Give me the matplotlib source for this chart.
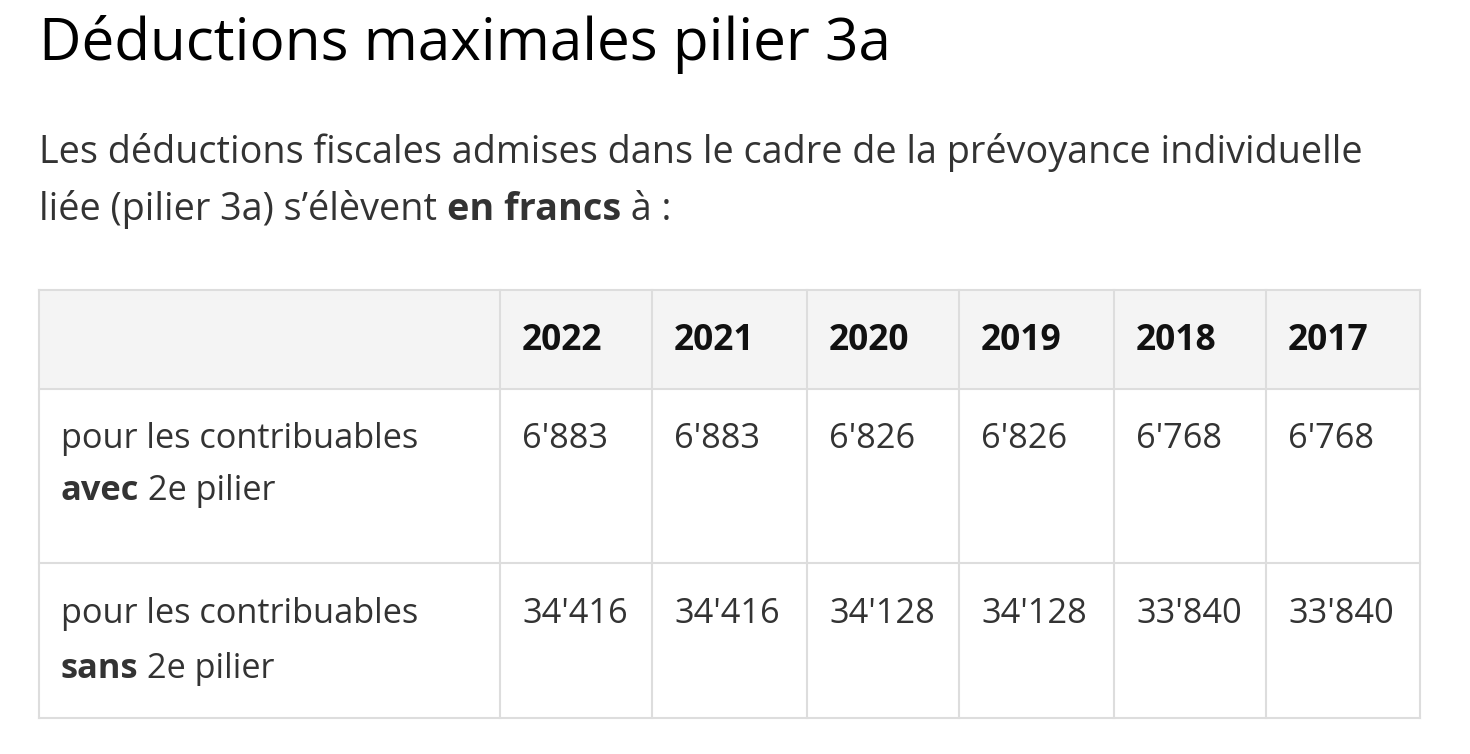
import matplotlib
matplotlib.use("Agg")
import matplotlib.pyplot as plt
from matplotlib.patches import Rectangle

plt.rcParams['font.family'] = ['Open Sans', 'DejaVu Sans']

title = "Déductions maximales pilier 3a"
intro_1 = "Les déductions fiscales admises dans le cadre de la prévoyance individuelle"
intro_2 = [("liée (pilier 3a) s’élèvent ", "normal"), ("en francs", "bold"), (" à :", "normal")]

years = ["2022", "2021", "2020", "2019", "2018", "2017"]
avec_2e = ["6'883", "6'883", "6'826", "6'826", "6'768", "6'768"]
sans_2e = ["34'416", "34'416", "34'128", "34'128", "33'840", "33'840"]
row_labels = [
    ("pour les contribuables", [("avec", "bold"), (" 2e pilier", "normal")]),
    ("pour les contribuables", [("sans", "bold"), (" 2e pilier", "normal")]),
]

fig = plt.figure(figsize=(14.7, 7.54), dpi=100)
ax = fig.add_axes([0, 0, 1, 1])
ax.set_xlim(0, 1470)
ax.set_ylim(754, 0)
ax.axis('off')
renderer = fig.canvas.get_renderer()


def text_width(s, size, weight="normal"):
    t = ax.text(0, 0, s, fontsize=size, fontweight=weight)
    w = t.get_window_extent(renderer).width
    t.remove()
    return w


def fit_size(s, target, weight="normal"):
    return 20 * target / text_width(s, 20, weight)


def draw_segments(x, y, segments, size, color):
    for s, weight in segments:
        t = ax.text(x, y, s, fontsize=size, fontweight=weight, color=color, va='baseline', ha='left')
        x += t.get_window_extent(renderer).width


title_size = fit_size(title, 851, "medium")
body_size = fit_size(intro_1, 1319)
cell_size = fit_size("pour les contribuables", 359)
head_size = fit_size("2022", 81, "bold")

ax.text(39, 60, title, fontsize=title_size, fontweight="medium", color="#000000", va='baseline')
ax.text(39, 163, intro_1, fontsize=body_size, color="#333333", va='baseline')
draw_segments(39, 220, intro_2, body_size, "#333333")

# table grid
col_edges = [39, 500, 652, 807, 959, 1114, 1266, 1420]
row_edges = [290, 389, 563, 718]
border = "#dddddd"
ax.add_patch(Rectangle((col_edges[0], row_edges[0]), col_edges[-1] - col_edges[0],
                       row_edges[1] - row_edges[0], facecolor="#f4f4f4", edgecolor="none"))
for y in row_edges:
    ax.plot([col_edges[0], col_edges[-1]], [y, y], color=border, lw=1.5)
for x in col_edges:
    ax.plot([x, x], [row_edges[0], row_edges[-1]], color=border, lw=1.5)

pad = 22
for i, yr in enumerate(years):
    ax.text(col_edges[i + 1] + pad, 350, yr, fontsize=head_size, fontweight='bold',
            color="#111111", va='baseline')

line1 = [448, 623]
line2 = [500, 678]
for r, (first, second) in enumerate(row_labels):
    ax.text(col_edges[0] + pad, line1[r], first, fontsize=cell_size, color="#333333", va='baseline')
    draw_segments(col_edges[0] + pad, line2[r], second, cell_size, "#333333")

for r, vals in enumerate([avec_2e, sans_2e]):
    for i, v in enumerate(vals):
        ax.text(col_edges[i + 1] + pad, line1[r], v, fontsize=cell_size, color="#333333", va='baseline')

fig.savefig("out.png", dpi=100, facecolor="white")
